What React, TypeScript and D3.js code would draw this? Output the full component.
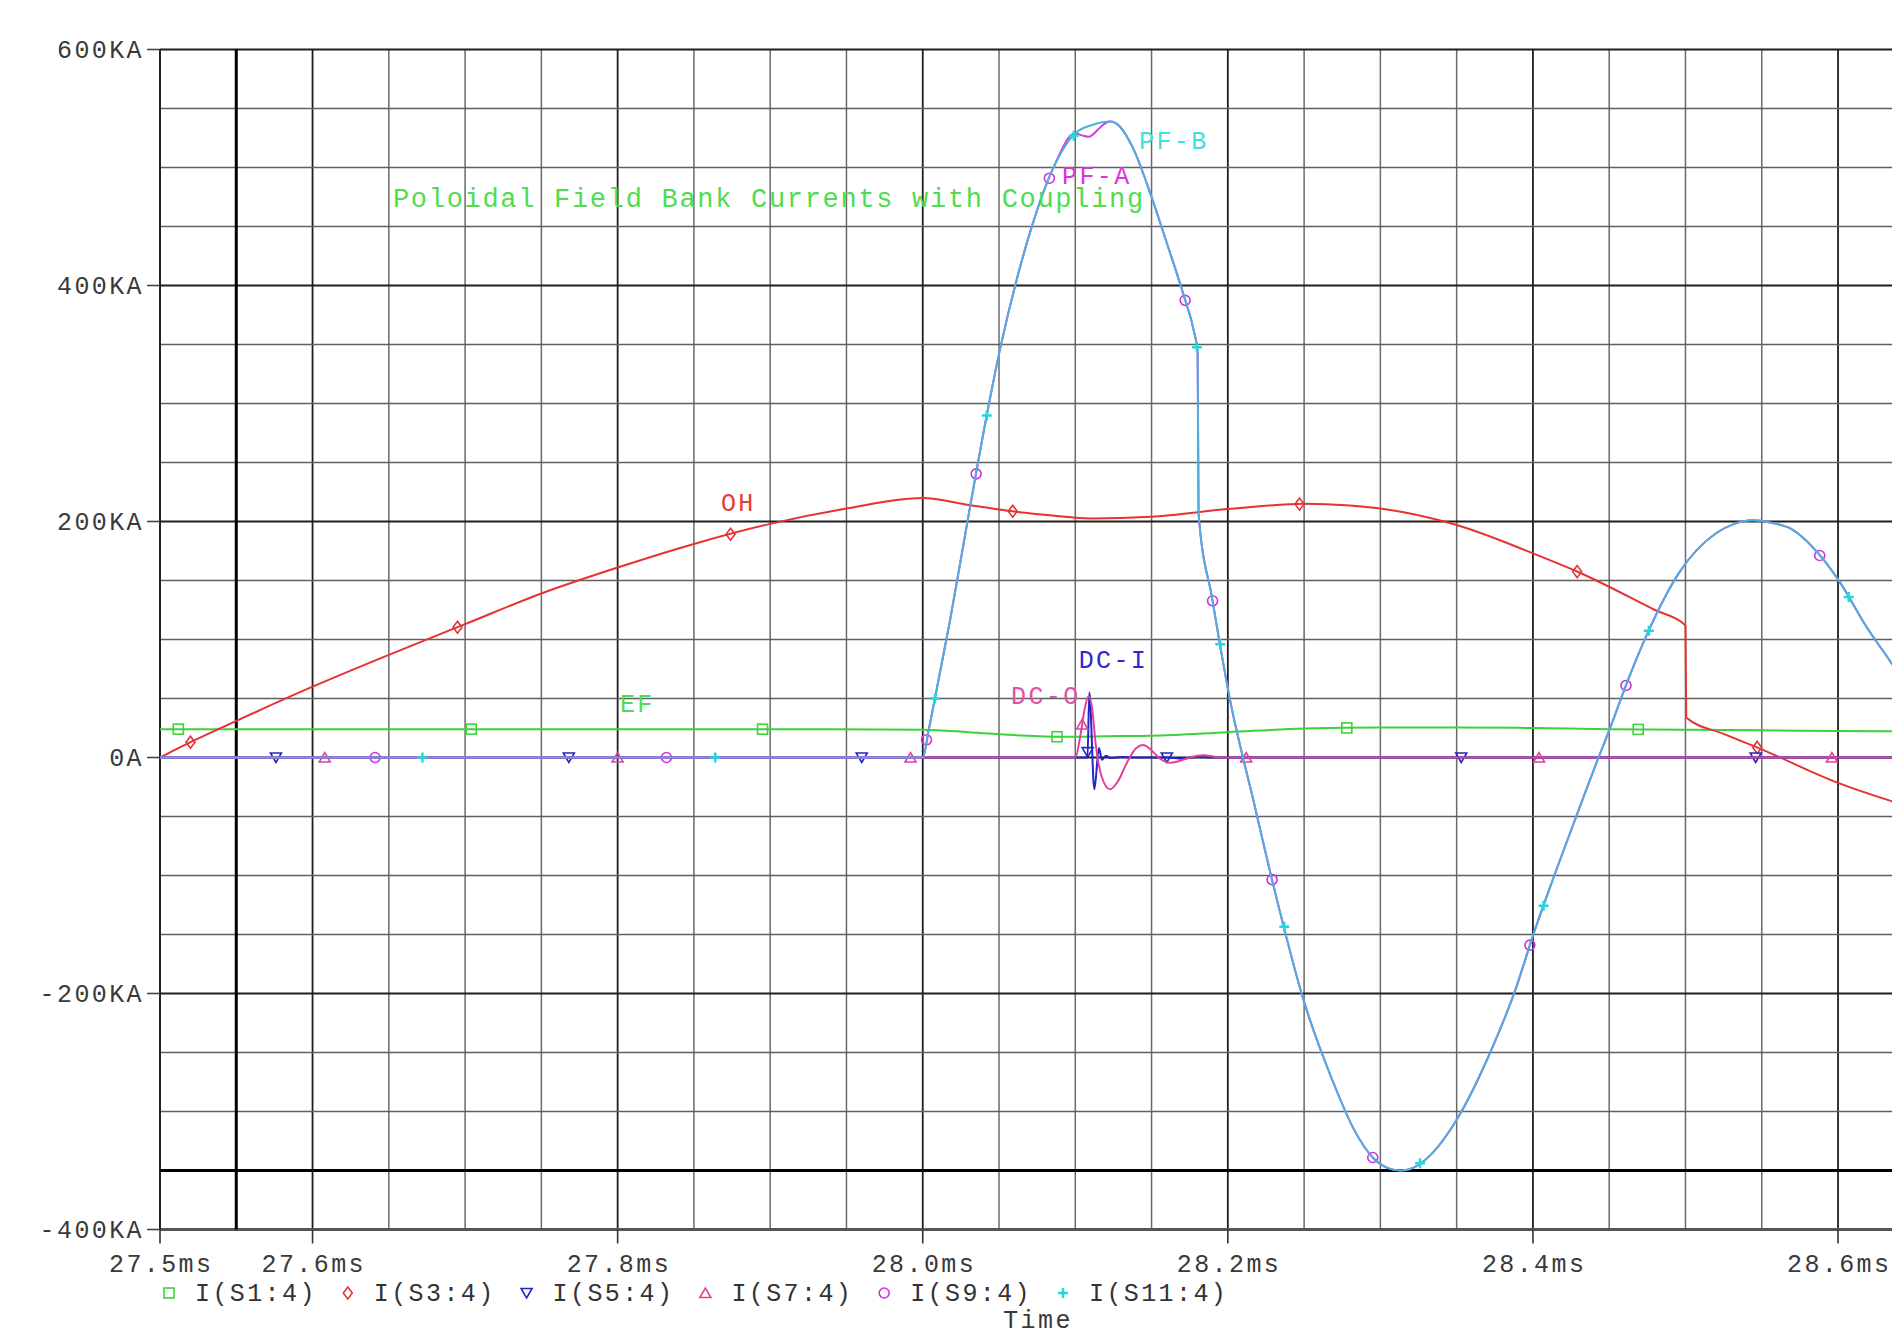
import React from 'react';
import * as d3 from 'd3';

// PSpice probe window: Poloidal Field bank currents, time in ms, current in KA

const timeTicks = [27.5, 27.6, 27.8, 28.0, 28.2, 28.4, 28.6];
const timeTickLabels = ['27.5ms', '27.6ms', '27.8ms', '28.0ms', '28.2ms', '28.4ms', '28.6ms'];
const currentTicks = [600, 400, 200, 0, -200, -400];
const currentTickLabels = ['600KA', '400KA', '200KA', '0A', '-200KA', '-400KA'];

const cursorTime = 27.55;
const cursorCurrent = -350;

// I(S1:4)  EF
const efCurrent: [number, number][] = [
  [27.5, 24], [27.6, 24], [27.7, 24], [27.8, 24], [27.9, 24], [28.0, 23.5], [28.03, 21.5],
  [28.06, 19], [28.09, 17.5], [28.12, 18], [28.15, 18.5], [28.2, 21.5], [28.25, 24.5],
  [28.3, 25.5], [28.35, 25.5], [28.4, 25], [28.45, 24], [28.5, 23.5], [28.55, 23],
  [28.6, 22.5], [28.65, 22],
];
const efMarkers = [27.512, 27.704, 27.895, 28.088, 28.278, 28.469];

// I(S3:4)  OH
const ohCurrent: [number, number][] = [
  [27.5, 0], [27.52, 13], [27.55, 31], [27.6, 60], [27.65, 87], [27.7, 113], [27.75, 139],
  [27.8, 161], [27.85, 181], [27.9, 198], [27.95, 211], [28.0, 220], [28.03, 214],
  [28.06, 208.5], [28.085, 205], [28.11, 202.5], [28.15, 204], [28.2, 210.5], [28.25, 215],
  [28.28, 213.5], [28.3, 211], [28.35, 197], [28.4, 173], [28.43, 157], [28.48, 125],
  [28.5, 112], [28.5005, 34], [28.525, 20], [28.548, 8], [28.6, -21.5], [28.635, -37],
  [28.65, -43],
];
const ohMarkers = [27.52, 27.695, 27.874, 28.059, 28.247, 28.429, 28.547];

// I(S5:4)  DC-I
const dcICurrent: [number, number][] = [
  [27.5, 0], [28.108, 0], [28.1092, 55], [28.1125, -27], [28.1155, 8], [28.1175, -2],
  [28.12, 1.5], [28.123, -0.5], [28.13, 0.5], [28.14, 0], [28.16, 0], [28.17, -1],
  [28.18, 0.5], [28.19, 0], [28.65, 0],
];
const dcIMarkers = [27.576, 27.768, 27.96, 28.1081, 28.16, 28.353, 28.546];

// I(S7:4)  DC-O
const dcOCurrent: [number, number][] = [
  [27.5, 0], [28.1, 0], [28.1035, 20], [28.106, 40], [28.1087, 52], [28.111, 42],
  [28.1135, 10], [28.117, -15], [28.1228, -27], [28.128, -20], [28.134, -4], [28.14, 8],
  [28.1445, 10.5], [28.15, 6], [28.156, -1.5], [28.162, -4.5], [28.168, -3], [28.175, 0],
  [28.184, 2], [28.192, 0.5], [28.2, 0], [28.65, 0],
];
const dcOMarkers = [27.608, 27.8, 27.992, 28.1045, 28.212, 28.404, 28.596];

// I(S9:4)  PF-A
const pfACurrent: [number, number][] = [
  [27.5, 0], [28.0, 0], [28.004, 24], [28.008, 50], [28.018, 117], [28.03, 205],
  [28.043, 297], [28.051, 348], [28.062, 407], [28.072, 452], [28.085, 498], [28.1, 529],
  [28.105, 527], [28.109, 526], [28.114, 531], [28.118, 536], [28.123, 539], [28.129, 535],
  [28.138, 516], [28.15, 475], [28.16, 436], [28.171, 392], [28.178, 360], [28.1802, 344],
  [28.1808, 207], [28.1897, 135], [28.2014, 49], [28.2167, -36], [28.23, -109],
  [28.2495, -205], [28.269, -275], [28.283, -316], [28.295, -339], [28.305, -348],
  [28.313, -350], [28.324, -346], [28.335, -334], [28.35, -307], [28.372, -250],
  [28.389, -195], [28.4, -151], [28.418, -86], [28.433, -34], [28.443, 0], [28.45, 23],
  [28.463, 68], [28.475, 105], [28.495, 155], [28.52, 190], [28.532, 198], [28.544, 201],
  [28.556, 199], [28.569, 194], [28.589, 170], [28.601, 149], [28.6185, 111],
  [28.635, 80], [28.65, 50],
];
const pfAMarkers = [27.641, 27.832, 28.0025, 28.035, 28.083, 28.172, 28.19, 28.229, 28.295, 28.398, 28.461, 28.588];

// I(S11:4)  PF-B
const pfBCurrent: [number, number][] = [
  [27.5, 0], [28.0, 0], [28.004, 24], [28.008, 50], [28.018, 117], [28.03, 205],
  [28.043, 297], [28.051, 348], [28.062, 407], [28.072, 452], [28.085, 498], [28.1, 529],
  [28.111, 536], [28.123, 539], [28.129, 535], [28.138, 516], [28.15, 475], [28.16, 436],
  [28.171, 392], [28.178, 360], [28.1802, 344], [28.1808, 207], [28.1897, 135],
  [28.2014, 49], [28.2167, -36], [28.23, -109], [28.2495, -205], [28.269, -275],
  [28.283, -316], [28.295, -339], [28.305, -348], [28.313, -350], [28.324, -346],
  [28.335, -334], [28.35, -307], [28.372, -250], [28.389, -195], [28.4, -151],
  [28.418, -86], [28.433, -34], [28.443, 0], [28.45, 23], [28.463, 68], [28.475, 105],
  [28.495, 155], [28.52, 190], [28.532, 198], [28.544, 201], [28.556, 199], [28.569, 194],
  [28.589, 170], [28.601, 149], [28.6185, 111], [28.635, 80], [28.65, 50],
];
const pfBMarkers = [27.672, 27.864, 28.008, 28.042, 28.099, 28.1797, 28.195, 28.237, 28.326, 28.407, 28.476, 28.607];

// text annotations, anchored in data units (ms, KA) at the text baseline start
const annotations = [
  { text: 'Poloidal Field Bank Currents with Coupling', t: 27.6527, v: 466.6, color: '#4fdc4f', size: 27 },
  { text: 'OH', t: 27.8677, v: 209, color: '#e53b3b', size: 25 },
  { text: 'EF', t: 27.8015, v: 38.5, color: '#4fdc4f', size: 25 },
  { text: 'DC-I', t: 28.1022, v: 76, color: '#2a2ad0', size: 25 },
  { text: 'DC-O', t: 28.0579, v: 45, color: '#e050a8', size: 25 },
  { text: 'PF-A', t: 28.0913, v: 486, color: '#dd33dd', size: 25 },
  { text: 'PF-B', t: 28.1418, v: 515.7, color: '#3fe0e0', size: 25 },
];

const series = [
  { name: 'I(S1:4)', data: efCurrent, markers: efMarkers, color: '#3cd23c', markerColor: '#3cd23c', shape: 'square' },
  { name: 'I(S3:4)', data: ohCurrent, markers: ohMarkers, color: '#e63232', markerColor: '#e63232', shape: 'diamond' },
  { name: 'I(S5:4)', data: dcICurrent, markers: dcIMarkers, color: '#2424c8', markerColor: '#2424c8', shape: 'down' },
  { name: 'I(S7:4)', data: dcOCurrent, markers: dcOMarkers, color: '#e0409a', markerColor: '#e0409a', shape: 'up' },
  { name: 'I(S9:4)', data: pfACurrent, markers: pfAMarkers, color: '#d83ad8', markerColor: '#cc33dd', shape: 'circle' },
  { name: 'I(S11:4)', data: pfBCurrent, markers: pfBMarkers, color: '#4dafdf', markerColor: '#22d8e0', shape: 'plus' },
];

const W = 1892;
const H = 1334;
const plot = { left: 160, right: 1914.3, top: 49.5, bottom: 1229.5 };
const font = "'Liberation Mono', 'DejaVu Sans Mono', monospace";

function valueAt(data: [number, number][], t: number) {
  const i = d3.bisector((d: [number, number]) => d[0]).left(data, t);
  if (i <= 0) return data[0][1];
  if (i >= data.length) return data[data.length - 1][1];
  const [t0, v0] = data[i - 1];
  const [t1, v1] = data[i];
  return v0 + (v1 - v0) * (t - t0) / (t1 - t0);
}

function Marker({ shape, x, y, color }: { shape: string; x: number; y: number; color: string }) {
  const s = { fill: 'none', stroke: color, strokeWidth: 1.6 };
  if (shape === 'square') return <rect x={x - 5} y={y - 5} width={10} height={10} style={s} />;
  if (shape === 'diamond') return <path d={`M${x},${y - 6}L${x + 4.5},${y}L${x},${y + 6}L${x - 4.5},${y}Z`} style={s} />;
  if (shape === 'down') return <path d={`M${x - 5.5},${y - 4.5}L${x + 5.5},${y - 4.5}L${x},${y + 5}Z`} style={s} />;
  if (shape === 'up') return <path d={`M${x - 5.5},${y + 4.5}L${x + 5.5},${y + 4.5}L${x},${y - 5}Z`} style={s} />;
  if (shape === 'circle') return <circle cx={x} cy={y} r={5} style={s} />;
  return <path d={`M${x - 5},${y}H${x + 5}M${x},${y - 5}V${y + 5}`} style={{ ...s, strokeWidth: 2.5 }} />;
}

export default function App() {
  const x = d3.scaleLinear().domain([27.5, 28.65]).range([plot.left, plot.right]);
  const y = d3.scaleLinear().domain([-400, 600]).range([plot.bottom, plot.top]);

  const line = d3.line<[number, number]>()
    .x(d => x(d[0]))
    .y(d => y(d[1]))
    .curve(d3.curveMonotoneX);

  const gridTimes = d3.range(0, 24).map(i => +(27.5 + i * 0.05).toFixed(2));
  const gridCurrents = d3.range(-400, 601, 50);

  return (
    <svg width={W} height={H} style={{ position: 'absolute', left: 0, top: 0, background: '#fff' }}>
      <defs>
        <clipPath id="plotClip">
          <rect x={plot.left} y={plot.top} width={plot.right - plot.left} height={plot.bottom - plot.top} />
        </clipPath>
      </defs>

      {/* grid */}
      <g>
        {gridTimes.map((t, i) => {
          const major = timeTicks.includes(t);
          return <line key={'gx' + i} x1={x(t)} x2={x(t)} y1={plot.top} y2={plot.bottom}
            stroke={major ? '#1e1e1e' : '#6a6a6a'} strokeWidth={major ? 1.8 : 1.5} />;
        })}
        {gridCurrents.map((v, i) => {
          const major = v % 200 === 0;
          return <line key={'gy' + i} x1={plot.left} x2={plot.right} y1={y(v)} y2={y(v)}
            stroke={major ? '#1e1e1e' : '#606060'} strokeWidth={major ? 1.8 : 1.5} />;
        })}
        <line x1={plot.left} x2={plot.right} y1={plot.bottom} y2={plot.bottom} stroke="#555" strokeWidth={3} />
        <line x1={plot.left} x2={plot.left} y1={plot.top} y2={plot.bottom} stroke="#222" strokeWidth={1.8} />
      </g>

      {/* cursors */}
      <line x1={x(cursorTime)} x2={x(cursorTime)} y1={plot.top} y2={plot.bottom} stroke="#000" strokeWidth={3} />
      <line x1={plot.left} x2={plot.right} y1={y(cursorCurrent)} y2={y(cursorCurrent)} stroke="#000" strokeWidth={3} />

      {/* y axis */}
      <g fontFamily={font} fontSize={25} fill="#3a3a3a">
        {currentTicks.map((v, i) => (
          <g key={'yt' + i}>
            <line x1={plot.left - 13} x2={plot.left} y1={y(v)} y2={y(v)} stroke="#444" strokeWidth={1.6} />
            <text x={plot.left - 16} y={y(v) + 8} textAnchor="end" letterSpacing={2.4}>{currentTickLabels[i]}</text>
          </g>
        ))}
      </g>

      {/* x axis */}
      <g fontFamily={font} fontSize={25} fill="#3a3a3a">
        {timeTicks.map((t, i) => (
          <g key={'xt' + i}>
            <line x1={x(t)} x2={x(t)} y1={plot.bottom} y2={plot.bottom + 14} stroke="#333" strokeWidth={1.6} />
            <text x={x(t) + 1.2} y={plot.bottom + 42} textAnchor="middle" letterSpacing={2.4}>{timeTickLabels[i]}</text>
          </g>
        ))}
        <text x={1038} y={1328} textAnchor="middle" letterSpacing={2.4}>Time</text>
      </g>

      {/* traces */}
      <g clipPath="url(#plotClip)">
        {series.map(s => (
          <g key={s.name}>
            <path d={line(s.data) || ''} fill="none" stroke={s.color} strokeWidth={2} />
            {s.markers.map((t, j) => (
              <Marker key={j} shape={s.shape} x={x(t)} y={y(valueAt(s.data, t))} color={s.markerColor} />
            ))}
          </g>
        ))}
      </g>

      {/* annotations */}
      <g fontFamily={font}>
        {annotations.map((a, i) => (
          <text key={'an' + i} x={x(a.t)} y={y(a.v)} fontSize={a.size} fill={a.color}
            letterSpacing={a.size === 27 ? 1.7 : 2.4}>{a.text}</text>
        ))}
      </g>

      {/* legend */}
      <g fontFamily={font} fontSize={25} fill="#333">
        {series.map((s, i) => {
          const lx = 169 + i * 178.8;
          return (
            <g key={'lg' + i}>
              <Marker shape={s.shape} x={lx} y={1293} color={s.markerColor} />
              <text x={lx + 26} y={1301} letterSpacing={2.4}>{s.name}</text>
            </g>
          );
        })}
      </g>
    </svg>
  );
}
